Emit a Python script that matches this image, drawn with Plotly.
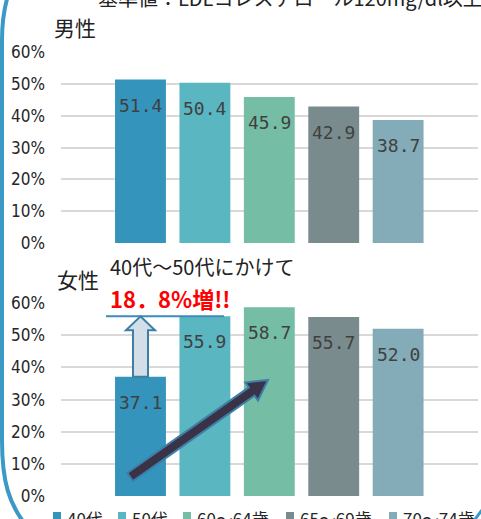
import math
import plotly.graph_objects as go

W, H = 481, 519

categories = ["40代", "50代", "60～64歳", "65～69歳", "70～74歳"]
male = [51.4, 50.4, 45.9, 42.9, 38.7]
female = [37.1, 55.9, 58.7, 55.7, 52.0]
colors = ["#3594BC", "#5AB7C1", "#75BEA5", "#7A8B8E", "#83ACB8"]
ytick_vals = [0, 10, 20, 30, 40, 50, 60]
ytick_text = [f"{v}%" for v in ytick_vals]

CJK = "Noto Sans CJK JP"
NARROW = "Liberation Sans Narrow, DejaVu Sans Condensed, sans-serif"
MONO = "DejaVu Sans Mono, Liberation Mono, monospace"


def px(x):
    return x / W


def py(y):
    return 1 - y / H


fig = go.Figure()

for vals, xa, ya in [(male, "x", "y"), (female, "x2", "y2")]:
    for i, (c, v, col) in enumerate(zip(categories, vals, colors)):
        fig.add_trace(go.Bar(
            x=[i], y=[v], name=c, marker_color=col, marker_line_width=0,
            width=0.79, xaxis=xa, yaxis=ya, showlegend=False, hoverinfo="skip",
        ))
        fig.add_annotation(
            x=i, y=v, xref=xa, yref=ya, text=f"{v:.1f}", showarrow=False,
            yanchor="top", yshift=-13,
            font=dict(family=MONO, size=18, color="#404040"),
        )

xr = [-1.234, 5.24]
xcommon = dict(range=xr, showgrid=False, zeroline=False, showline=False,
               showticklabels=False, ticks="", fixedrange=True)
ycommon = dict(range=[0, 60.05], tickvals=ytick_vals, ticktext=ytick_text,
               showgrid=True, gridcolor="#D9D9D9", gridwidth=1.5,
               zeroline=False, showline=False, ticks="",
               ticklabelstandoff=15, automargin=False,
               tickfont=dict(family=NARROW, size=17, color="#262626"))

fig.update_layout(
    width=W, height=H, autosize=False,
    margin=dict(l=0, r=0, t=0, b=0, pad=0, autoexpand=False),
    paper_bgcolor="white", plot_bgcolor="white",
    barmode="overlay", showlegend=False,
    xaxis=dict(domain=[px(61), px(478)], anchor="y", **xcommon),
    yaxis=dict(domain=[py(243), py(52)], anchor="x", **ycommon),
    xaxis2=dict(domain=[px(61), px(478)], anchor="y2", **xcommon),
    yaxis2=dict(domain=[py(496), py(303)], anchor="x2", **ycommon),
)

# --- legend (manual, at the bottom, partly cut off) ---
legend_text_x = [65, 130, 195, 298, 401]
for name, col, tx in zip(categories, colors, legend_text_x):
    fig.add_shape(type="rect", xref="paper", yref="paper",
                  x0=px(tx - 12), x1=px(tx - 4), y0=py(520), y1=py(512),
                  fillcolor=col, line_width=0)
    fig.add_annotation(xref="paper", yref="paper", x=px(tx), y=py(518),
                       xanchor="left", yanchor="middle", showarrow=False,
                       text=name, font=dict(family=CJK, size=17, color="#262626"))


# --- texts ---
def label(text, x, y, size, color="#222222", bold=False):
    t = f"<b>{text}</b>" if bold else text
    fig.add_annotation(xref="paper", yref="paper", x=px(x), y=py(y),
                       xanchor="left", yanchor="middle", showarrow=False,
                       text=t, font=dict(family=CJK, size=size, color=color))


label("基準値：LDLコレステロール120mg/dl以上", 96, -2, 20)
label("男性", 52, 27, 21)
label("女性", 55, 279, 21)
label("40代～50代にかけて", 108, 266, 20)
label("18．8%増!!", 108, 298, 22, color="#FF0000", bold=True)


# --- frame (rounded border, cut off) ---
def path_px(cmds):
    out = []
    for c in cmds:
        op, pts = c[0], c[1:]
        out.append(op + " " + " ".join(f"{px(a):.5f},{py(b):.5f}" for a, b in pts))
    return " ".join(out)


frame = path_px([("M", (14, -20)), ("Q", (2, 5), (2, 40)), ("L", (2, 440)),
                 ("C", (2, 480), (8, 505), (30, 530))])
fig.add_shape(type="path", xref="paper", yref="paper", path=frame,
              line=dict(color="#3A99C5", width=4))
fig.add_shape(type="path", xref="paper", yref="paper",
              path=path_px([("M", (473, 522)), ("L", (482, 510))]),
              line=dict(color="#3A99C5", width=3))

# --- highlight line at the 50代 level and up arrow from 40代 bar ---
xpu = 1 / 64.4          # data units per pixel (x)
ypu = 60 / 193          # data units per pixel (y, bottom chart)
fig.add_shape(type="line", xref="x2", yref="y2",
              x0=-0.536, x1=1.297, y0=female[1], y1=female[1],
              line=dict(color="#3A8DBA", width=2))
sw, hw, hl = 7.5 * xpu, 14.5 * xpu, 14 * ypu
y0, y1 = female[0], female[1]
up = (f"M {-sw},{y0} L {-sw},{y1 - hl} L {-hw},{y1 - hl} L 0,{y1} "
      f"L {hw},{y1 - hl} L {sw},{y1 - hl} L {sw},{y0} Z")
fig.add_shape(type="path", xref="x2", yref="y2", path=up,
              fillcolor="#D3DEE8", line=dict(color="#3B7FA3", width=2))

# --- diagonal dark arrow ---
sx, sy, tx_, ty_ = 130, 477, 268, 380
dx, dy = tx_ - sx, ty_ - sy
L = math.hypot(dx, dy)
ux, uy = dx / L, dy / L
nx, ny = -uy, ux
shw, hhw, hlen = 5, 11, 20
bx, by = tx_ - hlen * ux, ty_ - hlen * uy
pts = [(sx + shw * nx, sy + shw * ny), (bx + shw * nx, by + shw * ny),
       (bx + hhw * nx, by + hhw * ny), (tx_, ty_),
       (bx - hhw * nx, by - hhw * ny), (bx - shw * nx, by - shw * ny),
       (sx - shw * nx, sy - shw * ny)]
diag = "M " + " L ".join(f"{px(a):.5f},{py(b):.5f}" for a, b in pts) + " Z"
fig.add_shape(type="path", xref="paper", yref="paper", path=diag,
              fillcolor="#3A3247", line=dict(color="#3E7FA8", width=2))

fig.write_html("out.html",
               config={"displayModeBar": False},
               post_script="document.body.style.margin='0';"
                           "document.body.style.overflow='hidden';")
